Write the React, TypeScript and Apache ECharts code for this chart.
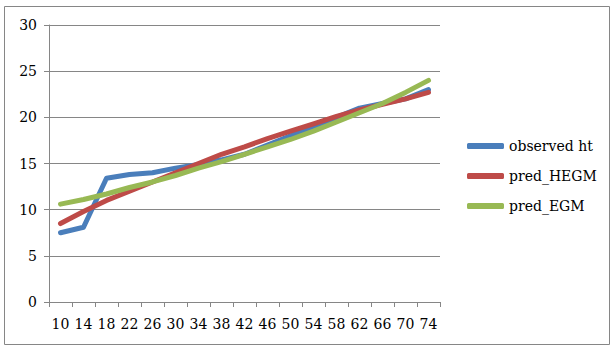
import React, { useEffect, useRef } from "react";
import * as echarts from "echarts";

const categories = ["10", "14", "18", "22", "26", "30", "34", "38", "42", "46", "50", "54", "58", "62", "66", "70", "74"];
const observedHt = [7.5, 8.1, 13.4, 13.8, 14.0, 14.5, 14.9, 15.4, 16.0, 17.0, 18.0, 19.0, 20.0, 21.0, 21.5, 22.0, 23.0];
const predHEGM = [8.5, 9.8, 11.0, 12.0, 13.0, 14.0, 15.0, 16.0, 16.8, 17.7, 18.5, 19.3, 20.1, 20.8, 21.4, 22.0, 22.7];
const predEGM = [10.6, 11.1, 11.7, 12.4, 13.0, 13.7, 14.5, 15.2, 16.0, 16.8, 17.6, 18.5, 19.5, 20.5, 21.5, 22.7, 24.0];
const seriesNames = ["observed ht", "pred_HEGM", "pred_EGM"];
const colors = ["#4a7ebb", "#be4b48", "#98b954"];

export default function App() {
  const ref = useRef<HTMLDivElement>(null);
  useEffect(() => {
    if (!ref.current) return;
    const chart = echarts.init(ref.current, null, { renderer: "svg" });
    const font = "DejaVu Serif";
    const gray = "#868686";
    const datas = [observedHt, predHEGM, predEGM];
    chart.setOption({
      animation: false,
      backgroundColor: "#ffffff",
      textStyle: { fontFamily: font },
      graphic: [
        {
          type: "rect",
          shape: { x: 4.5, y: 6.5, width: 605, height: 338 },
          style: { fill: "none", stroke: gray, lineWidth: 1 },
          silent: true,
        },
      ],
      grid: { left: 49, right: 176, top: 25, bottom: 48, containLabel: false },
      legend: {
        orient: "vertical",
        left: 462,
        top: 134,
        itemWidth: 37,
        itemHeight: 6,
        itemGap: 16,
        icon: "roundRect",
        data: seriesNames,
        textStyle: { fontFamily: font, fontSize: 14, color: "#000" },
      },
      xAxis: {
        type: "category",
        data: categories,
        boundaryGap: true,
        axisLine: { lineStyle: { color: gray } },
        axisTick: { show: true, length: 5, lineStyle: { color: gray }, alignWithLabel: false },
        axisLabel: { fontFamily: font, fontSize: 14, color: "#000", margin: 15, interval: 0 },
        splitLine: { show: false },
      },
      yAxis: {
        type: "value",
        min: 0,
        max: 30,
        interval: 5,
        axisLine: { show: true, lineStyle: { color: gray } },
        axisTick: { show: true, length: 5, lineStyle: { color: gray } },
        axisLabel: { fontFamily: font, fontSize: 14, color: "#000", margin: 12 },
        splitLine: { show: true, lineStyle: { color: gray, width: 1 } },
      },
      series: seriesNames.map((name, i) => ({
        name,
        type: "line",
        data: datas[i],
        symbol: "none",
        color: colors[i],
        lineStyle: { width: 5, color: colors[i], cap: "round", join: "round" },
      })),
    });
    return () => chart.dispose();
  }, []);
  return <div ref={ref} style={{ width: 616, height: 350, position: "absolute", left: 0, top: 0 }} />;
}
